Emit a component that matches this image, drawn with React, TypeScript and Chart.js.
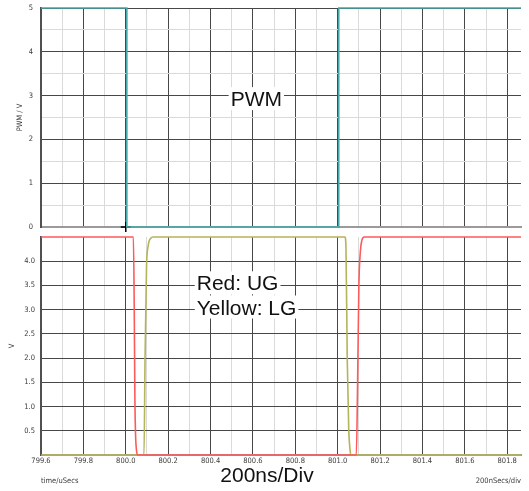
import React, { useEffect, useRef } from 'react';
import { Chart, registerables } from 'chart.js';

Chart.register(...registerables);

// ---------- data ----------
const X_MIN = 799.6;
const X_MAX = 801.865;

const xMajorTicks = [799.6, 799.8, 800.0, 800.2, 800.4, 800.6, 800.8, 801.0, 801.2, 801.4, 801.6, 801.8];
const xTickLabels = ['799.6', '799.8', '800.0', '800.2', '800.4', '800.6', '800.8', '801.0', '801.2', '801.4', '801.6', '801.8'];
const xMinorTicks = [799.7, 799.9, 800.1, 800.3, 800.5, 800.7, 800.9, 801.1, 801.3, 801.5, 801.7];

const pwmYMajor = [0, 1, 2, 3, 4, 5];
const pwmYLabels = ['0', '1', '2', '3', '4', '5'];
const pwmYMinor = [0.5, 1.5, 2.5, 3.5, 4.5];

const gateYTicks = [0.5, 1.0, 1.5, 2.0, 2.5, 3.0, 3.5, 4.0];
const gateYLabels = ['0.5', '1.0', '1.5', '2.0', '2.5', '3.0', '3.5', '4.0'];

// PWM (top pane)
const pwmTime = [799.6, 800.005, 800.005, 801.005, 801.005, 801.865];
const pwmV = [5, 5, 0, 0, 5, 5];

// cursor marker
const cursorTime = [800.0];
const cursorV = [0];

// Red: UG
const ugTime = [799.6, 800.036, 800.04, 800.043, 800.046, 800.05, 800.056, 801.088, 801.094, 801.1, 801.107, 801.114, 801.125, 801.865];
const ugV = [4.5, 4.5, 3.0, 1.2, 0.45, 0.12, 0, 0, 1.5, 3.5, 4.2, 4.43, 4.5, 4.5];

// Yellow: LG
const lgTime = [799.6, 800.086, 800.091, 800.098, 800.105, 800.117, 800.13, 801.034, 801.039, 801.045, 801.052, 801.058, 801.062, 801.865];
const lgV = [0, 0, 2.0, 3.9, 4.3, 4.47, 4.5, 4.5, 4.3, 2.0, 0.55, 0.12, 0, 0];

// annotations (data coordinates of the text anchor: left/center x, baseline y)
const pwmNotes = [{ text: 'PWM', x: 800.616, y: 2.76, align: 'center' }];
const gateNotes = [
  { text: 'Red: UG', x: 800.335, y: 3.4, align: 'left' },
  { text: 'Yellow: LG', x: 800.335, y: 2.9, align: 'left' },
];

// ---------- style ----------
const TEAL = '#45a8a8';
const RED = '#ff5a5a';
const YELLOW = '#b4b45a';
const GRID_MAJOR = '#474747';
const GRID_MINOR = '#dadada';
const SMALL_FONT = { family: 'Tahoma, "DejaVu Sans Condensed", "DejaVu Sans", sans-serif', size: 7.5 };
const BIG_FONT = '21px "Liberation Sans", Arial, sans-serif';
const LABEL_COLOR = '#3a3a3a';

const near = (a: number, b: number) => Math.abs(a - b) < 1e-6;
const isIn = (arr: number[], v: number) => arr.some((a) => near(a, v));

const toPoints = (xs: number[], ys: number[]) => xs.map((x, i) => ({ x, y: ys[i] }));

const notesPlugin = (notes: { text: string; x: number; y: number; align: string }[]) => ({
  id: 'notes',
  afterDraw(chart: any) {
    const { ctx } = chart;
    const xs = chart.scales.x;
    const ys = chart.scales.y;
    ctx.save();
    ctx.font = BIG_FONT;
    ctx.textBaseline = 'alphabetic';
    ctx.textAlign = 'left';
    for (const n of notes) {
      const px = xs.getPixelForValue(n.x);
      const py = ys.getPixelForValue(n.y);
      const m = ctx.measureText(n.text);
      const left = n.align === 'center' ? px - m.width / 2 : px;
      const asc = m.fontBoundingBoxAscent ?? 19;
      const desc = m.fontBoundingBoxDescent ?? 4.5;
      ctx.fillStyle = '#ffffff';
      ctx.fillRect(left - 2, py - asc, m.width + 4, asc + desc);
      ctx.fillStyle = '#111111';
      ctx.fillText(n.text, left, py);
    }
    ctx.restore();
  },
});

const footerPlugin = {
  id: 'footer',
  afterDraw(chart: any) {
    const { ctx, chartArea } = chart;
    ctx.save();
    ctx.fillStyle = '#111111';
    ctx.font = BIG_FONT;
    ctx.textAlign = 'center';
    ctx.textBaseline = 'alphabetic';
    ctx.fillText('200ns/Div', 267, chart.height - 9);
    ctx.font = `${SMALL_FONT.size}px ${SMALL_FONT.family}`;
    ctx.fillStyle = LABEL_COLOR;
    ctx.textAlign = 'right';
    ctx.textBaseline = 'middle';
    ctx.fillText('200nSecs/div', chartArea.right, chart.height - 10);
    ctx.restore();
  },
};

const xScale = (showLabels: boolean) => ({
  type: 'linear',
  min: X_MIN,
  max: X_MAX,
  afterBuildTicks: (scale: any) => {
    scale.ticks = [...xMajorTicks, ...xMinorTicks].sort((a, b) => a - b).map((v) => ({ value: v }));
  },
  ticks: {
    display: showLabels,
    autoSkip: false,
    maxRotation: 0,
    padding: 2,
    color: LABEL_COLOR,
    font: SMALL_FONT,
    callback: (value: number) => {
      const i = xMajorTicks.findIndex((v) => near(v, value));
      return i >= 0 ? xTickLabels[i] : '';
    },
  },
  grid: {
    drawTicks: false,
    color: (c: any) => (c.tick && isIn(xMajorTicks, c.tick.value) ? GRID_MAJOR : GRID_MINOR),
  },
  border: { color: '#9a9a9a', width: 2 },
});

const fixYWidth = (s: any) => {
  s.width = 41;
  s.paddingTop = 0;
  s.paddingBottom = 0;
};

export default function App() {
  const topRef = useRef<HTMLCanvasElement>(null);
  const botRef = useRef<HTMLCanvasElement>(null);

  useEffect(() => {
    const top = new Chart(topRef.current as HTMLCanvasElement, {
      type: 'line',
      data: {
        datasets: [
          {
            data: toPoints(pwmTime, pwmV),
            borderColor: TEAL,
            borderWidth: 1.6,
            pointRadius: 0,
            tension: 0,
            clip: 3,
          } as any,
          {
            type: 'scatter',
            data: toPoints(cursorTime, cursorV),
            pointStyle: 'cross',
            pointRadius: 5,
            borderColor: '#000000',
            backgroundColor: '#000000',
            borderWidth: 1.5,
            clip: false,
          } as any,
        ],
      },
      options: {
        responsive: false,
        animation: false,
        maintainAspectRatio: false,
        layout: { autoPadding: false, padding: { top: 8, right: 8, left: 0, bottom: 0 } },
        plugins: { legend: { display: false }, tooltip: { enabled: false } },
        scales: {
          x: {
            ...xScale(false),
            afterFit: (s: any) => {
              s.height = 5;
              s.paddingLeft = 0;
              s.paddingRight = 0;
            },
          } as any,
          y: {
            type: 'linear',
            min: 0,
            max: 5,
            afterBuildTicks: (scale: any) => {
              scale.ticks = [...pwmYMajor, ...pwmYMinor].sort((a, b) => a - b).map((v) => ({ value: v }));
            },
            afterFit: fixYWidth,
            ticks: {
              autoSkip: false,
              padding: 8,
              color: LABEL_COLOR,
              font: SMALL_FONT,
              callback: (value: number) => {
                const i = pwmYMajor.findIndex((v) => near(v, value));
                return i >= 0 ? pwmYLabels[i] : '';
              },
            },
            grid: {
              drawTicks: false,
              color: (c: any) => (c.tick && isIn(pwmYMajor, c.tick.value) ? GRID_MAJOR : GRID_MINOR),
            },
            border: { color: '#505050', width: 2 },
            title: { display: true, text: 'PWM / V', color: LABEL_COLOR, font: SMALL_FONT, padding: { top: 16, bottom: 0 } },
          } as any,
        },
      },
      plugins: [notesPlugin(pwmNotes)],
    });

    const bot = new Chart(botRef.current as HTMLCanvasElement, {
      type: 'line',
      data: {
        datasets: [
          {
            data: toPoints(ugTime, ugV),
            borderColor: RED,
            borderWidth: 1.6,
            pointRadius: 0,
            cubicInterpolationMode: 'monotone',
            clip: 3,
          } as any,
          {
            data: toPoints(lgTime, lgV),
            borderColor: YELLOW,
            borderWidth: 1.6,
            pointRadius: 0,
            cubicInterpolationMode: 'monotone',
            clip: 3,
          } as any,
        ],
      },
      options: {
        responsive: false,
        animation: false,
        maintainAspectRatio: false,
        layout: { autoPadding: false, padding: { top: 5, right: 8, left: 0, bottom: 0 } },
        plugins: { legend: { display: false }, tooltip: { enabled: false } },
        scales: {
          x: {
            ...xScale(true),
            afterFit: (s: any) => {
              s.height = 36;
            },
            title: {
              display: true,
              text: 'time/uSecs',
              align: 'start',
              color: LABEL_COLOR,
              font: SMALL_FONT,
              padding: { top: 0, bottom: 5.5 },
            },
          } as any,
          y: {
            type: 'linear',
            min: 0,
            max: 4.5,
            afterBuildTicks: (scale: any) => {
              scale.ticks = gateYTicks.map((v) => ({ value: v }));
            },
            afterFit: fixYWidth,
            ticks: {
              autoSkip: false,
              padding: 6,
              color: LABEL_COLOR,
              font: SMALL_FONT,
              callback: (value: number) => {
                const i = gateYTicks.findIndex((v) => near(v, value));
                return i >= 0 ? gateYLabels[i] : '';
              },
            },
            grid: { drawTicks: false, color: GRID_MAJOR },
            border: { color: '#505050', width: 2 },
            title: { display: true, text: 'V', color: LABEL_COLOR, font: SMALL_FONT, padding: { top: 8, bottom: 0 } },
          } as any,
        },
      },
      plugins: [notesPlugin(gateNotes), footerPlugin],
    });

    return () => {
      top.destroy();
      bot.destroy();
    };
  }, []);

  return (
    <div style={{ position: 'absolute', left: 0, top: 0, width: 529, height: 491, background: '#ffffff' }}>
      <canvas
        ref={topRef}
        width={529}
        height={232}
        style={{ position: 'absolute', left: 0, top: 0, width: 529, height: 232 }}
      />
      <canvas
        ref={botRef}
        width={529}
        height={259}
        style={{ position: 'absolute', left: 0, top: 232, width: 529, height: 259 }}
      />
    </div>
  );
}
